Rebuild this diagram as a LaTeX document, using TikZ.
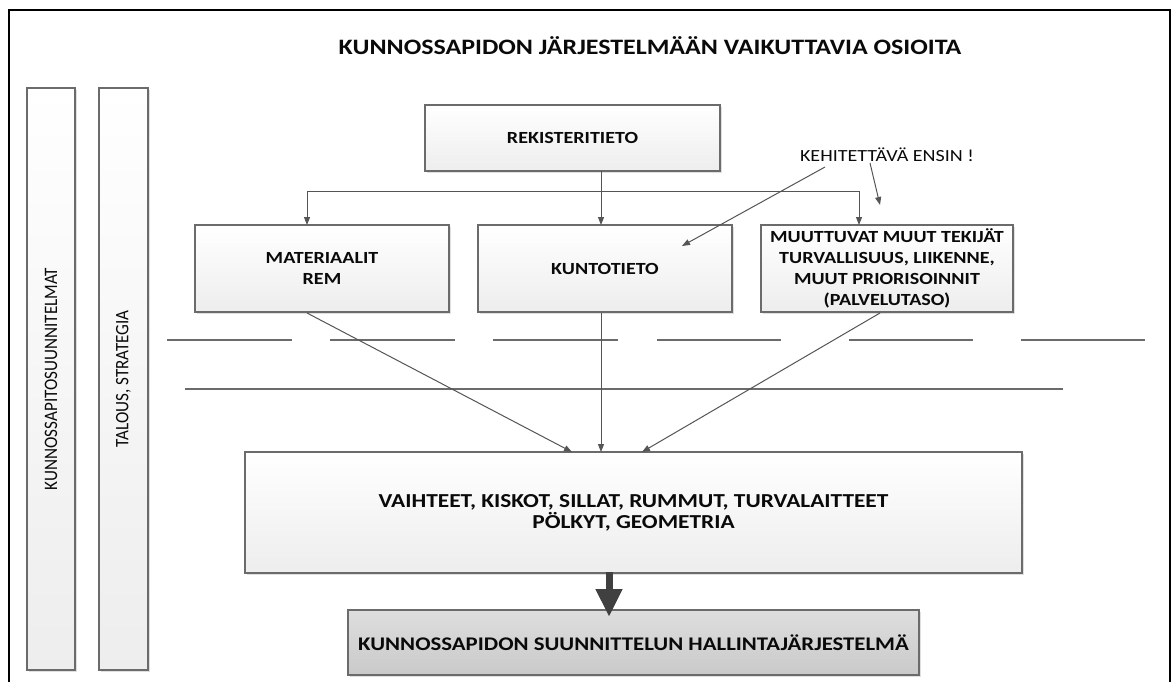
\documentclass[tikz,border=0pt]{standalone}
\usepackage{fontspec}
\setmainfont{Carlito}[FakeStretch=1.18]
\newfontfamily\sidefont{Carlito}[FakeStretch=0.9]
\usetikzlibrary{arrows.meta,shadows}
\definecolor{edge}{HTML}{6B6B6B}
\definecolor{wire}{HTML}{555555}
\definecolor{ink}{HTML}{0A0A0A}
\tikzset{
  box/.style={draw=edge, line width=1.2pt, inner sep=0pt, outer sep=0pt,
    top color=white, bottom color=black!7, align=center, text=ink,
    font=\bfseries\fontsize{17}{21}\selectfont,
    drop shadow={shadow xshift=2pt, shadow yshift=-2pt, opacity=0.25, fill=black!50}},
  bar/.style={box, font=\sidefont\fontsize{19}{22}\selectfont, minimum width=48pt, minimum height=582pt},
  wirearrow/.style={draw=wire, line width=1pt, -{Triangle[length=8pt,width=6pt]}},
  wireline/.style={draw=wire, line width=1pt},
  rule/.style={draw=edge, line width=1.3pt},
}
\begin{document}
\begin{tikzpicture}[x=1pt,y=-1pt]
\useasboundingbox (0,0) rectangle (1173,682);
\fill[white] (0,0) rectangle (1173,682);
% frame
\draw[line width=2.5pt, black] (9,682) -- (9,10) -- (1170,10) -- (1170,682);

% title
\node[text=ink, font=\bfseries\fontsize{22}{24}\selectfont] (title) at (650,46) {KUNNOSSAPIDON JÄRJESTELMÄÄN VAIKUTTAVIA OSIOITA};

% side bars
\node[bar] (plans) at (51,379) {};
\node[rotate=90, text=ink, font=\sidefont\fontsize{19}{22}\selectfont] (plansT) at (plans.center) {KUNNOSSAPITOSUUNNITELMAT};
\node[bar, minimum width=49pt] (econ) at (123.5,379) {};
\node[rotate=90, text=ink, font=\sidefont\fontsize{19}{22}\selectfont] (econT) at (econ.center) {TALOUS, STRATEGIA};

% boxes
\node[box, minimum width=295pt, minimum height=66pt] (rek) at (572.5,138) {REKISTERITIETO};
\node[box, minimum width=254pt, minimum height=87pt] (mat) at (322,268.5) {MATERIAALIT\\REM};
\node[box, minimum width=254pt, minimum height=87pt] (kun) at (605,268.5) {KUNTOTIETO};
\node[box, minimum width=252pt, minimum height=87pt] (muu) at (887,268.5) {MUUTTUVAT MUUT TEKIJÄT\\TURVALLISUUS, LIIKENNE,\\MUUT PRIORISOINNIT\\(PALVELUTASO)};
\node[box, minimum width=777pt, minimum height=121pt, font=\bfseries\fontsize{19.8}{21}\selectfont] (big) at (633.5,512.5) {VAIHTEET, KISKOT, SILLAT, RUMMUT, TURVALAITTEET\\PÖLKYT, GEOMETRIA};
\node[box, minimum width=571pt, minimum height=65pt, top color=black!13, bottom color=black!21, font=\bfseries\fontsize{19.3}{21}\selectfont] (hal) at (633.5,642.5) {KUNNOSSAPIDON SUUNNITTELUN HALLINTAJÄRJESTELMÄ};

% note
\node[text=ink, font=\fontsize{17}{20}\selectfont] (ens) at (887,155) {KEHITETTÄVÄ ENSIN !};

% distribution from the register
\coordinate (jn) at (601,191);
\coordinate (j1) at (307,191);
\coordinate (j3) at (859,191);
\draw[wirearrow] (rek.south -| jn) -- (kun.north -| jn);
\draw[wireline] (j1) -- (j3);
\draw[wirearrow] (j1) -- (j1 |- mat.north);
\draw[wirearrow] (j3) -- (j3 |- muu.north);

% note pointers
\coordinate (n1) at (825,167);
\coordinate (n1e) at (682,246);
\coordinate (n2) at (870,163);
\coordinate (n2e) at (880,205);
\draw[wirearrow] (n1) -- (n1e);
\draw[wirearrow] (n2) -- (n2e);

% horizontal rules
\foreach \a/\b in {167/292,330/455,493/618,657/781,849/973,1021/1145}
  \draw[rule] (\a,340) -- (\b,340);
\draw[rule] (185,389) -- (1063,389);

% flows into the asset box
\coordinate (m1) at (307,313);
\coordinate (k1) at (601,313);
\coordinate (u1) at (880,313);
\coordinate (b1) at (572,452);
\coordinate (b2) at (601,452);
\coordinate (b3) at (642,452);
\draw[wirearrow] (m1) -- (b1);
\draw[wirearrow] (k1) -- (b2);
\draw[wirearrow] (u1) -- (b3);

% main output arrow
\coordinate (t1) at (609,572);
\coordinate (t2) at (609,617);
\draw[draw=black!75, line width=7pt, -{Triangle[length=28pt,width=25pt]}, fill=black!75] (t1) -- (t2);
\end{tikzpicture}
\end{document}
